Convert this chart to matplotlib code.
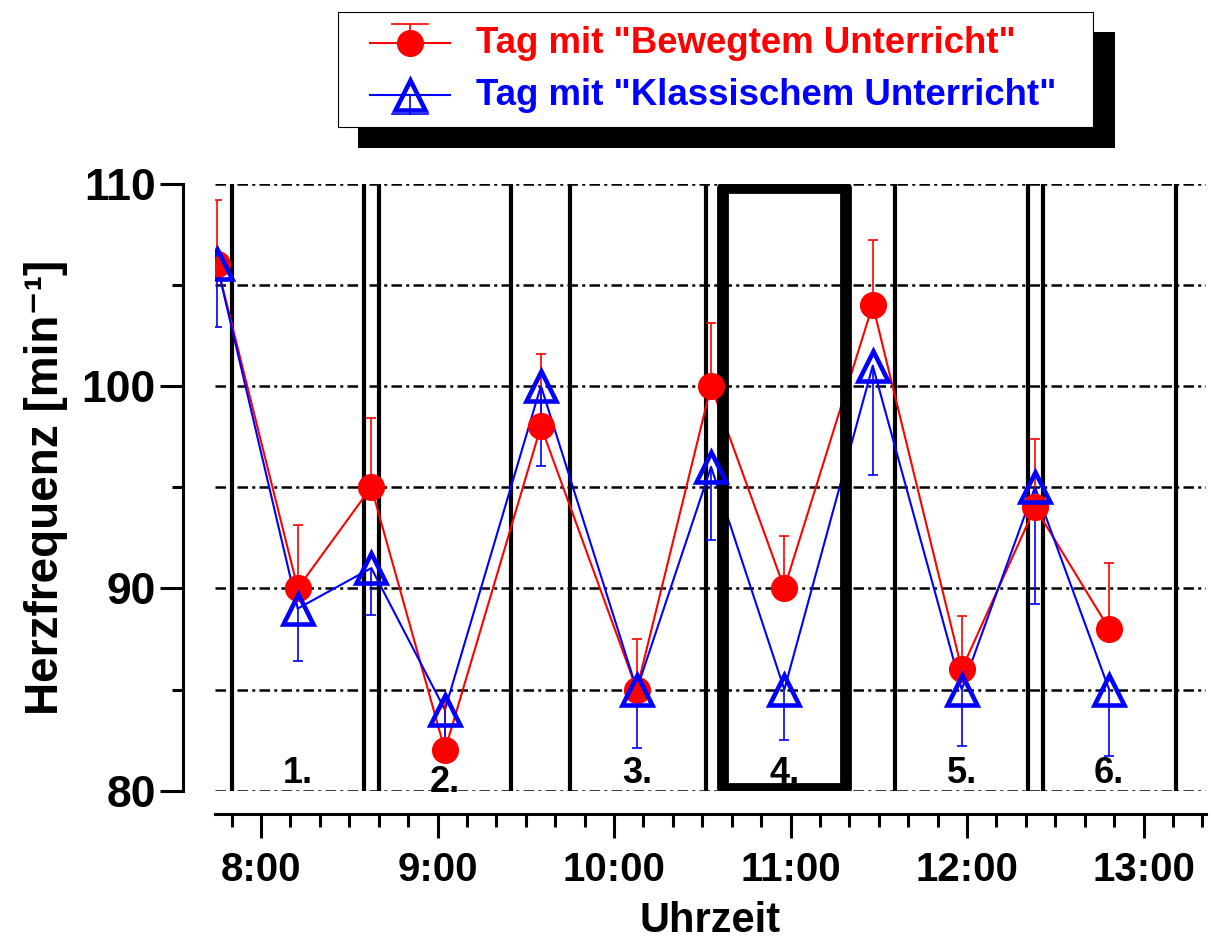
import numpy as np
import matplotlib
matplotlib.use("Agg")
import matplotlib.pyplot as plt
from matplotlib.patches import Rectangle
from matplotlib.ticker import FixedLocator, FuncFormatter

plt.rcParams['font.family'] = ['Liberation Sans', 'DejaVu Sans']
plt.rcParams['font.weight'] = 'bold'

# Messzeitpunkte (Stunden, dezimal)
zeiten = [7.75, 8.208, 8.625, 9.042, 9.586, 10.129, 10.55, 10.965, 11.466, 11.97, 12.385, 12.805]

# Tag mit "Bewegtem Unterricht" (Mittelwert + oberer Fehler)
bewegt = [106, 90, 95, 82, 98, 85, 100, 90, 104, 86, 94, 88]
bewegt_err = [3.2, 3.15, 3.4, 2.4, 3.6, 2.5, 3.1, 2.6, 3.2, 2.65, 3.4, 3.25]

# Tag mit "Klassischem Unterricht" (Mittelwert + unterer Fehler)
klassisch = [106, 89, 91, 84, 100, 85, 96, 85, 101, 85, 95, 85]
klassisch_err = [3.1, 2.6, 2.3, 2.2, 3.95, 2.9, 3.6, 2.5, 5.4, 2.8, 5.8, 3.3]

# Stundengrenzen (Beginn / Ende der Schulstunden)
grenzen = [7.833, 8.583, 8.667, 9.417, 9.75, 10.521, 11.59, 12.344, 12.43, 13.183]
# hervorgehobene 4. Stunde
stunde4 = (10.618, 11.313)

stunden_labels = ['1.', '2.', '3.', '4.', '5.', '6.']
stunden_idx = [1, 3, 5, 7, 9, 11]
stunden_y = [80.4, 79.95, 80.4, 80.4, 80.4, 80.4]

fig = plt.figure(figsize=(12.11, 9.43), dpi=100)
ax = fig.add_axes([215 / 1211, (943 - 790.7) / 943, 991 / 1211, 607.2 / 943])
ax.set_xlim(7.7394, 13.354)
ax.set_ylim(80, 110)

for s in ['top', 'right']:
    ax.spines[s].set_visible(False)
ax.spines['left'].set_position(('outward', 23))
ax.spines['left'].set_bounds(80, 110)
ax.spines['bottom'].set_position(('outward', 16.8))
for s in ['left', 'bottom']:
    ax.spines[s].set_linewidth(2.2)

# Achsenticks
ax.yaxis.set_major_locator(FixedLocator([80, 90, 100, 110]))
ax.yaxis.set_minor_locator(FixedLocator([85, 95, 105]))
ax.xaxis.set_major_locator(FixedLocator([8, 9, 10, 11, 12, 13]))
ax.xaxis.set_minor_locator(FixedLocator(np.arange(7 + 5 / 6, 13.34, 1 / 6)))
ax.xaxis.set_major_formatter(FuncFormatter(lambda v, p: '%d:00' % round(v)))
ax.tick_params(axis='y', which='major', length=16.6, width=2.2, pad=3, labelsize=32)
ax.tick_params(axis='y', which='minor', length=8, width=2.2)
ax.tick_params(axis='x', which='major', length=17.3, width=2.2, pad=9, labelsize=29)
ax.tick_params(axis='x', which='minor', length=9.4, width=2.2)

# strichpunktierte Gitterlinien
ax.grid(axis='y', which='both', color='k', lw=1.8, ls=(0, (4.2, 1.7, 1.2, 1.7)), zorder=0.5)
ax.set_axisbelow(True)

ax.vlines(grenzen, 80, 110, colors='k', lw=3, zorder=1)
ax.add_patch(Rectangle((stunde4[0], 80.1), stunde4[1] - stunde4[0], 109.78 - 80.1,
                       fill=False, ec='k', lw=8.5, joinstyle='round', zorder=3))

zeiten_a = np.array(zeiten)
b = np.array(bewegt)
k = np.array(klassisch)

ax.plot(zeiten_a, b, color='red', lw=1.5, zorder=2)
ax.plot(zeiten_a, k, color='blue', lw=1.5, zorder=2.1)

# einseitige Fehlerbalken
ax.vlines(zeiten_a, b, b + np.array(bewegt_err), colors='red', lw=1.2, zorder=2.2)
ax.plot(zeiten_a, b + np.array(bewegt_err), ls='none', marker='_', ms=7, mew=1.2, color='red', zorder=2.2)
ax.vlines(zeiten_a, k - np.array(klassisch_err), k, colors='blue', lw=1.2, zorder=2.3)
ax.plot(zeiten_a, k - np.array(klassisch_err), ls='none', marker='_', ms=7, mew=1.2, color='blue', zorder=2.3)

ax.plot(zeiten_a, b, ls='none', marker='o', ms=18.5, color='red', mec='red', zorder=4)
ax.plot(zeiten_a, k, ls='none', marker='^', ms=22, mfc='none', mec='blue', mew=3.3, zorder=4.1)

for lab, i, y in zip(stunden_labels, stunden_idx, stunden_y):
    ax.text(zeiten[i], y, lab, ha='center', va='baseline', fontsize=26, fontweight='bold', zorder=5)

ax.set_xlabel('Uhrzeit', fontsize=30, fontweight='bold')
ax.xaxis.set_label_coords(0.5, -0.182)
ax.set_ylabel('Herzfrequenz [min\u207b\u00b9]', fontsize=33, fontweight='bold')
ax.yaxis.set_label_coords(-0.148, 0.5)

# Legende mit Schatten (Pixelkoordinaten)
lg = fig.add_axes([0, 0, 1, 1], zorder=10)
lg.set_xlim(0, 1211)
lg.set_ylim(943, 0)
lg.axis('off')
lg.add_patch(Rectangle((358, 32), 757, 116, fc='black', ec='none'))
lg.add_patch(Rectangle((338, 12), 755, 115, fc='white', ec='black', lw=0.8))
lg.plot([370, 450], [43, 43], color='red', lw=1.5)
lg.plot([410, 410], [43, 24], color='red', lw=1.2)
lg.plot([392, 428], [24, 24], color='red', lw=1.2)
lg.plot([410], [43], marker='o', ms=18.5, color='red')
lg.plot([370, 450], [95, 95], color='blue', lw=1.5)
lg.plot([410, 410], [95, 114], color='blue', lw=1.2)
lg.plot([392, 428], [114, 114], color='blue', lw=1.2)
lg.plot([410], [95], marker='^', ms=22, mfc='none', mec='blue', mew=3.3)
lg.text(476, 53, 'Tag mit "Bewegtem Unterricht"', color='red', fontsize=26.4,
        fontweight='bold', va='baseline')
lg.text(476, 105, 'Tag mit "Klassischem Unterricht"', color='blue', fontsize=26.4,
        fontweight='bold', va='baseline')

fig.savefig('out.png', dpi=100)
